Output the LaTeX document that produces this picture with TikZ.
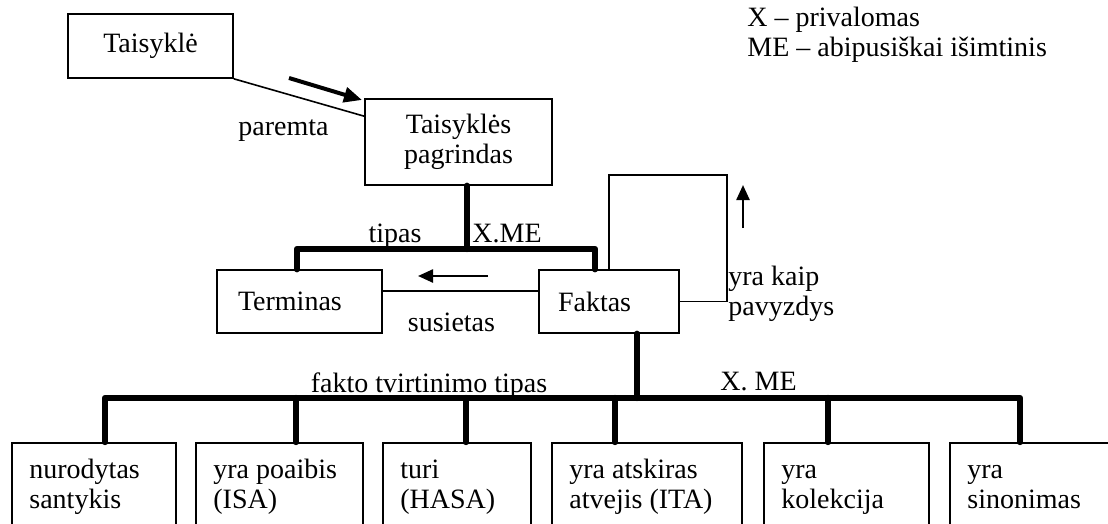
\documentclass[tikz,border=0pt]{standalone}
\usepackage{fontspec}
\setmainfont{Liberation Serif}
\usetikzlibrary{arrows.meta,calc}
\begin{document}
\begin{tikzpicture}[x=0.5pt,y=-0.5pt,
  every node/.style={font=\fontsize{14}{15}\selectfont},
  box/.style={draw, line width=0.8pt, inner sep=0pt},
  heavy/.style={line width=3.2pt, line cap=round, line join=round},
  thinline/.style={line width=0.8pt},
  pointer/.style={-{Triangle[length=7.5pt,width=6.5pt]}, line width=1.2pt},
  lbl/.style={inner sep=0pt, anchor=base},
  celltext/.style={inner sep=0pt, anchor=north west, align=left},
]
\useasboundingbox (0,0) rectangle (1108,524);
\fill[white] (0,0) rectangle (1108,524);
\clip (0,0) rectangle (1108,524);

% upper boxes
\node[box, minimum width=82.5pt, minimum height=32pt] (rule) at (150.5,46) {Taisyklė};
\node[box, minimum width=93.5pt, minimum height=43pt, align=center] (basis) at (458.5,142) {Taisyklės\\pagrindas};
\node[box, minimum width=82.5pt, minimum height=31.5pt, text width=61.5pt, inner xsep=10.5pt, align=left] (term) at (299.5,301.5) {Terminas};
\node[box, minimum width=70pt, minimum height=31.5pt, text width=51pt, inner xsep=9.5pt, align=left] (fact) at (609,301.5) {Faktas};

% statement type boxes (open at the bottom edge)
\node[box, anchor=north west, minimum width=82pt,   minimum height=59pt] (c1) at (11,442) {};
\node[box, anchor=north west, minimum width=83.5pt, minimum height=59pt] (c2) at (195,442) {};
\node[box, anchor=north west, minimum width=74pt,   minimum height=59pt] (c3) at (382,442) {};
\node[box, anchor=north west, minimum width=95pt,   minimum height=59pt] (c4) at (551,442) {};
\node[box, anchor=north west, minimum width=82.5pt, minimum height=59pt] (c5) at (763,442) {};
\node[box, anchor=north west, minimum width=85pt,   minimum height=59pt] (c6) at (949,442) {};

\node[celltext] (t1) at ([xshift=9pt,yshift=-7.5pt]c1.north west) {\strut nurodytas\\santykis};
\node[celltext] (t2) at ([xshift=9pt,yshift=-7.5pt]c2.north west) {\strut yra poaibis\\(ISA)};
\node[celltext] (t3) at ([xshift=9pt,yshift=-7.5pt]c3.north west) {\strut turi\\(HASA)};
\node[celltext] (t4) at ([xshift=9pt,yshift=-7.5pt]c4.north west) {\strut yra atskiras\\atvejis (ITA)};
\node[celltext] (t5) at ([xshift=9pt,yshift=-7.5pt]c5.north west) {\strut yra\\kolekcija};
\node[celltext] (t6) at ([xshift=9pt,yshift=-7.5pt]c6.north west) {\strut yra\\sinonimas};

% labels
\node[lbl] (lparemta) at (283.5,135) {paremta};
\node[lbl] (ltipas) at (395,242) {tipas};
\node[lbl, anchor=base west] (lxme) at (472,242) {X.ME};
\node[lbl] (lsus) at (451.5,331) {susietas};
\node[celltext] (lex) at (728,264) {\strut yra kaip\\pavyzdys};
\node[lbl] (lfakto) at (429,392) {fakto tvirtinimo tipas};
\node[lbl] (lxme2) at (758.5,390) {X. ME};

% legend
\node[lbl, anchor=base west] (leg1) at (747,27) {X – privalomas};
\node[lbl, anchor=base west] (leg2) at (747,57) {ME – abipusiškai išimtinis};

% thin connectors
\draw[thinline] (rule.south east) -- ([yshift=-9pt]basis.north west);
\draw[thinline] ([yshift=5.25pt]fact.west) -- ([yshift=5.25pt]fact.west -| term.east);
\coordinate (lp) at (727,175);
\draw[thinline] (fact.north) |- (lp) |- (fact.east);

% direction arrows
\draw[pointer, line width=2pt, -{Triangle[length=9pt,width=7.5pt]}] (289,78) -- (362,100);
\draw[pointer] (488,276) -- (418,276);
\draw[pointer] (743,228) -- (743,185);

% type tree under the rule basis
\coordinate (tj) at (467,249);
\coordinate (tl) at (297,249);
\coordinate (tr) at (595,249);
\draw[heavy] (tj |- basis.south) -- (tj);
\draw[heavy] (tl |- term.north) -- (tl) -- (tr) -- (tr |- fact.north);

% statement type tree under the fact
\coordinate (fj) at (637,398);
\coordinate (k1) at (105,398);
\coordinate (k2) at (296,398);
\coordinate (k3) at (466,398);
\coordinate (k4) at (615,398);
\coordinate (k5) at (828,398);
\coordinate (k6) at (1020,398);
\draw[heavy] (fj |- fact.south) -- (fj);
\draw[heavy] (k1 |- c1.north) -- (k1) -- (k6) -- (k6 |- c6.north);
\foreach \i in {2,...,5} \draw[heavy] (k\i) -- (k\i |- c\i.north);
\end{tikzpicture}
\end{document}
